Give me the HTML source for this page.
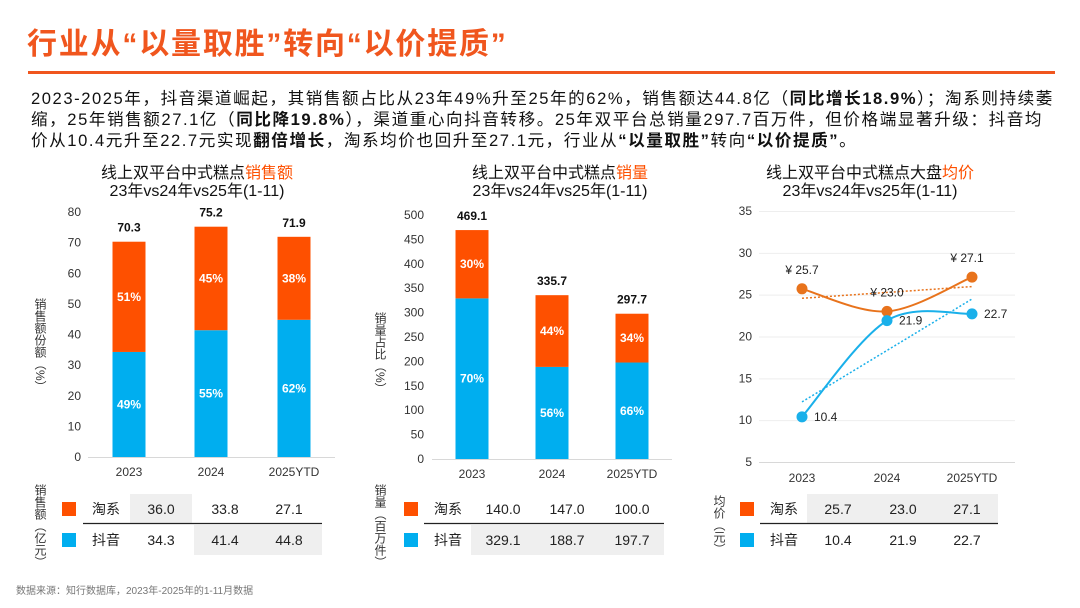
<!DOCTYPE html>
<html><head><meta charset="utf-8">
<style>
html,body{margin:0;padding:0;background:#fff;}
body{width:1080px;height:608px;overflow:hidden;position:relative;font-family:"Liberation Sans","Noto Sans CJK SC",sans-serif;color:#111;}
#title{position:absolute;left:27px;top:19px;font-size:30px;font-weight:bold;color:#f0561e;letter-spacing:1.8px;white-space:nowrap;}
#rule{position:absolute;left:28px;top:71px;width:1027px;height:3px;background:#f0561e;}
.para{position:absolute;left:31px;font-size:16.6px;letter-spacing:1.55px;white-space:nowrap;color:#111;}
#src{position:absolute;left:16px;top:582px;font-size:10px;color:#777;}
.vt{position:absolute;writing-mode:vertical-rl;font-size:12px;line-height:13px;color:#333;white-space:nowrap;}
svg{position:absolute;left:0;top:0;}
</style></head><body>
<div id="title">行业从“以量取胜”转向“以价提质”</div>
<div id="rule"></div>
<div class="para" style="top:85px">2023-2025年，抖音渠道崛起，其销售额占比从23年49%升至25年的62%，销售额达44.8亿（<b>同比增长18.9%</b>）；淘系则持续萎</div>
<div class="para" style="top:106px">缩，25年销售额27.1亿（<b>同比降19.8%</b>），渠道重心向抖音转移。25年双平台总销量297.7百万件，但价格端显著升级：抖音均</div>
<div class="para" style="top:127px">价从10.4元升至22.7元实现<b>翻倍增长</b>，淘系均价也回升至27.1元，行业从<b>“以量取胜”</b>转向<b>“以价提质”</b>。</div>
<div id="src">数据来源：知行数据库，2023年-2025年的1-11月数据</div>
<div class="vt" style="left:33px;top:298px">销售额份额（%）</div>
<div class="vt" style="left:33px;top:484px">销售额（亿元）</div>
<div class="vt" style="left:373px;top:312px">销量占比（%）</div>
<div class="vt" style="left:373px;top:484px">销量（百万件）</div>
<div class="vt" style="left:712px;top:495px">均价（元）</div>
<svg id="svg" width="1080" height="608"></svg>
<script>
const categories=["2023","2024","2025YTD"];
const salesTaobao=[36.0,33.8,27.1];
const salesDouyin=[34.3,41.4,44.8];
const salesTotal=[70.3,75.2,71.9];
const salesPctTaobao=["51%","45%","38%"];
const salesPctDouyin=["49%","55%","62%"];
const salesTicks=[0,10,20,30,40,50,60,70,80];
const volTaobao=[140.0,147.0,100.0];
const volDouyin=[329.1,188.7,197.7];
const volTotal=[469.1,335.7,297.7];
const volPctTaobao=["30%","44%","34%"];
const volPctDouyin=["70%","56%","66%"];
const volTicks=[0,50,100,150,200,250,300,350,400,450,500];
const priceTaobao=[25.7,23.0,27.1];
const priceDouyin=[10.4,21.9,22.7];
const priceTicks=[5,10,15,20,25,30,35];

const OR="#fe5000",BL="#00aeef",LOR="#e8731c",LBL="#1ab0ea";
const svg=document.getElementById('svg');
const NS="http://www.w3.org/2000/svg";
function mk(tag,at,txt){const e=document.createElementNS(NS,tag);for(const k in at)e.setAttribute(k,at[k]);if(txt!==undefined)e.textContent=txt;svg.appendChild(e);return e;}
function T(x,y,s,o){o=o||{};const e=mk('text',{x:x,y:y,'font-size':o.fs||12,'text-anchor':o.a||'middle',fill:o.c||'#222','font-weight':o.w||'normal','font-family':'"Liberation Sans","Noto Sans CJK SC",sans-serif'},s);return e;}
function title(cx,y,a,b,name){const e=mk('text',{x:cx,y:y,'font-size':16,'text-anchor':'middle',fill:'#111','font-family':'"Liberation Sans","Noto Sans CJK SC",sans-serif'});const t1=document.createElementNS(NS,'tspan');t1.textContent=a;e.appendChild(t1);const t2=document.createElementNS(NS,'tspan');t2.setAttribute('fill',OR);t2.textContent=b;e.appendChild(t2);const e2=T(cx,y+18,"23年vs24年vs25年(1-11)",{fs:16,c:'#111'});}

function table(cfg){
 cfg.gray.forEach(g=>{const r=mk('rect',{x:g[0],y:g[1]===0?494:525,width:g[2]-g[0],height:30,fill:'#efefef'});});
 const ln=mk('line',{x1:cfg.lx1,x2:cfg.lx2,y1:523.5,y2:523.5,stroke:'#222','stroke-width':1.2});
 
 [[OR,"淘系",cfg.r1,509],[BL,"抖音",cfg.r2,540]].forEach((row,ri)=>{
  const s=mk('rect',{x:cfg.sq,y:row[3]-7,width:14,height:14,fill:row[0]});
  
  const l=T(cfg.lab,row[3]+5,row[1],{fs:14,a:'start'});
  row[2].forEach((v,i)=>{const t=T(cfg.vx[i],row[3]+5,v.toFixed(1),{fs:14});});
 });
}

function barChart(c){
 const y=v=>c.y0-(v-c.tmin)/(c.tmax-c.tmin)*(c.y0-c.y1);
 c.ticks.forEach(t=>{const e=T(c.tx,y(t)+4,String(t),{fs:12,a:'end',c:'#333'});});
 const ax=mk('line',{x1:c.ax1,x2:c.ax2,y1:c.y0+.5,y2:c.y0+.5,stroke:'#d8d8d8'});
 categories.forEach((cat,i)=>{
  const cx=c.xs[i],w=33,b=c.b[i],t=c.t[i];
  const r1=mk('rect',{x:cx-w/2,y:y(b),width:w,height:c.y0-y(b),fill:BL});
  const r2=mk('rect',{x:cx-w/2,y:y(b+t),width:w,height:y(b)-y(b+t),fill:OR});
  const p1=T(cx,(y(b)+c.y0)/2+4,c.pb[i],{fs:12,c:'#fff',w:'bold'});
  const p2=T(cx,(y(b)+y(b+t))/2+4,c.pt[i],{fs:12,c:'#fff',w:'bold'});
  const tt=T(cx,y(c.tot[i])-10,c.tot[i].toFixed(1),{fs:12,w:'bold',c:'#111'});
  const xl=T(cx,c.y0+19,cat,{fs:12,c:'#333'});
 });
}

title(197,178,"线上双平台中式糕点","销售额","chart1-title");
barChart({y0:457,y1:212,tmin:0,tmax:80,ticks:salesTicks,tx:81,ax1:88,ax2:335,xs:[129,211,294],b:salesDouyin,t:salesTaobao,tot:salesTotal,pb:salesPctDouyin,pt:salesPctTaobao});
table({gray:[[130,0,192],[194,1,322]],lx1:83,lx2:322,sq:62,lab:92,vx:[161,225,289],r1:salesTaobao,r2:salesDouyin});

title(560,178,"线上双平台中式糕点","销量","chart2-title");
barChart({y0:459,y1:215,tmin:0,tmax:500,ticks:volTicks,tx:424,ax1:432,ax2:672,xs:[472,552,632],b:volDouyin,t:volTaobao,tot:volTotal,pb:volPctDouyin,pt:volPctTaobao});
table({gray:[[471,1,664]],lx1:424,lx2:664,sq:404,lab:434,vx:[503,567,632],r1:volTaobao,r2:volDouyin});

title(870,178,"线上双平台中式糕点大盘","均价","chart3-title");
(function(){
 const y0=462,y1=211,tmin=5,tmax=35,xs=[802,887,972];
 const y=v=>y0-(v-tmin)/(tmax-tmin)*(y0-y1);
 priceTicks.forEach(t=>{const g=mk('line',{x1:759,x2:1015,y1:y(t)+.5,y2:y(t)+.5,stroke:t===5?'#d8d8d8':'#eee'});
  const e=T(752,y(t)+4,String(t),{fs:12,a:'end',c:'#333'});});
 categories.forEach((c,i)=>{const e=T(xs[i],y0+20,c,{fs:12,c:'#333'});});
 function smooth(vals){const p=vals.map((v,i)=>[xs[i],y(v)]);let d=`M${p[0][0]},${p[0][1]}`;for(let i=0;i<p.length-1;i++){const p0=p[i-1]||p[i],p1=p[i],p2=p[i+1],p3=p[i+2]||p2;const k=1/6;d+=` C${p1[0]+(p2[0]-p0[0])*k},${p1[1]+(p2[1]-p0[1])*k} ${p2[0]-(p3[0]-p1[0])*k},${p2[1]-(p3[1]-p1[1])*k} ${p2[0]},${p2[1]}`;}return d;}
 function trend(vals){const n=vals.length,m=(n-1)/2,mv=vals.reduce((a,b)=>a+b)/n;let num=0,den=0;vals.forEach((v,i)=>{num+=(i-m)*(v-mv);den+=(i-m)*(i-m);});const s=num/den;return [mv-s*m,mv+s*m];}
 [[priceTaobao,LOR,'taobao'],[priceDouyin,LBL,'douyin']].forEach(s=>{
  const tr=trend(s[0]);
  const tl=mk('line',{x1:xs[0],y1:y(tr[0]),x2:xs[2],y2:y(tr[1]),stroke:s[1],'stroke-width':1.5,'stroke-dasharray':'2 2'});
  const pa=mk('path',{d:smooth(s[0]),fill:'none',stroke:s[1],'stroke-width':2});
  s[0].forEach((v,i)=>{const c=mk('circle',{cx:xs[i],cy:y(v),r:5.5,fill:s[1]});});
 });
 priceTaobao.forEach((v,i)=>{const e=T(xs[i]+[0,0,-5][i],y(v)-15,"¥ "+v.toFixed(1),{fs:12,c:'#222'});});
 priceDouyin.forEach((v,i)=>{const e=T(xs[i]+12,y(v)+4,v.toFixed(1),{fs:12,a:'start',c:'#222'});});
 table({gray:[[807,0,998]],lx1:760,lx2:998,sq:740,lab:770,vx:[838,903,967],r1:priceTaobao,r2:priceDouyin});
})();
</script>
</body></html>
